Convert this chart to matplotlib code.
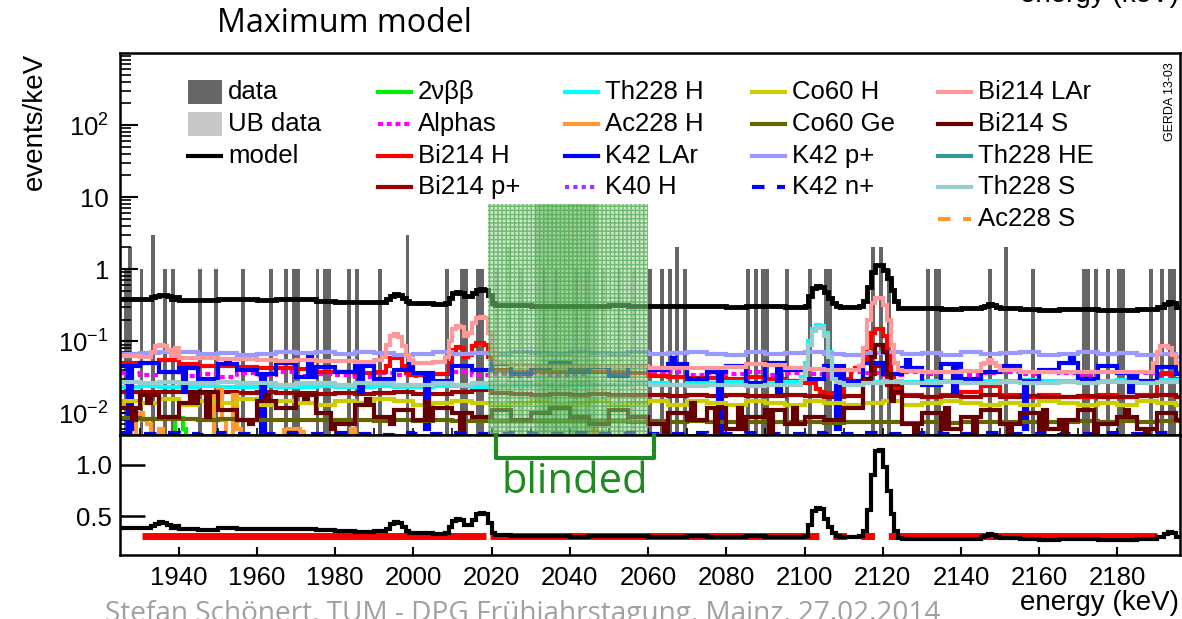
import numpy as np
import matplotlib
matplotlib.use("Agg")
import matplotlib.pyplot as plt
from matplotlib.lines import Line2D
from matplotlib.patches import Rectangle

plt.rcParams['font.family'] = ['Liberation Sans', 'DejaVu Sans']
plt.rcParams['mathtext.fontset'] = 'custom'
plt.rcParams['mathtext.rm'] = 'Liberation Sans'
plt.rcParams['mathtext.it'] = 'Liberation Sans:italic'

# ---------------- data ----------------
E_LO, E_HI = 1925, 2196

# measured data (events/keV, 1 keV bins)
data_e = [1926, 1927, 1930, 1933, 1936, 1938, 1945, 1949, 1956, 1963, 1967, 1969, 1970,
          1975, 1977, 1978, 1983, 1985, 1991, 1998, 2008, 2012, 2013, 2016, 2017,
          2060, 2063, 2065, 2067, 2069, 2085, 2087, 2089, 2090, 2095, 2101, 2105, 2106,
          2117, 2119, 2121, 2131, 2133, 2134, 2147, 2151, 2158, 2171, 2172, 2174, 2177,
          2180, 2181, 2188, 2191, 2193, 2194]
data_v = [1, 2, 1, 3, 1, 1, 1, 1, 1, 1, 1, 1, 1,
          1, 1, 1, 1, 1, 1, 3, 1, 1, 1, 1, 1,
          1, 1, 1, 2, 1, 1, 1, 1, 1, 1, 1, 1, 1,
          2, 2, 1, 1, 1, 1, 1, 2, 1, 1, 1, 1, 1,
          1, 1, 1, 1, 1, 1]

# unblinded data inside the blinded window
ub_e = [2021, 2024, 2027, 2033, 2036, 2041, 2044, 2048, 2052, 2056]
ub_v = [1, 2, 1, 1, 1, 1, 1, 1, 1, 1]

blind_lo, blind_hi = 2019, 2060
blind_core_lo, blind_core_hi = 2031, 2047

# model components: 5 keV coarse values (1925, 1930, ... 2195) + 1 keV peak values
model_c = [0.39, 0.39, 0.41, 0.375, 0.37, 0.39, 0.38, 0.375, 0.38, 0.38, 0.365, 0.355, 0.35,
           0.355, 0.42, 0.34, 0.33, 0.44, 0.47, 0.32, 0.315, 0.31, 0.31, 0.305, 0.31, 0.315,
           0.31, 0.305, 0.305, 0.31, 0.305, 0.3, 0.31, 0.305, 0.3, 0.3, 0.35, 0.3, 0.6, 0.6,
           0.285, 0.285, 0.28, 0.285, 0.3, 0.29, 0.28, 0.275, 0.28, 0.28, 0.275, 0.275, 0.28,
           0.3, 0.3]
model_pk_e = [1933, 1934, 1935, 1936, 1937, 1938, 1993, 1994, 1995, 1996, 1997, 1998, 1999,
              2008, 2009, 2010, 2011, 2012, 2013, 2014, 2015, 2016, 2017, 2018, 2019, 2020,
              2100, 2101, 2102, 2103, 2104, 2105, 2106, 2107, 2108, 2109,
              2114, 2115, 2116, 2117, 2118, 2119, 2120, 2121, 2122, 2123, 2124,
              2146, 2147, 2148, 2149, 2191, 2192, 2193, 2194, 2195]
model_pk_v = [0.41, 0.43, 0.445, 0.44, 0.42, 0.39, 0.38, 0.43, 0.45, 0.44, 0.4, 0.36, 0.34,
              0.34, 0.4, 0.46, 0.48, 0.47, 0.42, 0.42, 0.47, 0.52, 0.535, 0.52, 0.44, 0.34,
              0.31, 0.42, 0.55, 0.58, 0.57, 0.48, 0.4, 0.34, 0.31, 0.3,
              0.31, 0.36, 0.56, 0.9, 1.13, 1.14, 0.98, 0.75, 0.52, 0.36, 0.29,
              0.31, 0.33, 0.32, 0.3, 0.3, 0.33, 0.35, 0.34, 0.3]

tvbb_c = [0.004] * 55
tvbb_pk_e = [1939, 1940, 1941]
tvbb_pk_v = [0.009, 0.0085, 0.006]

alphas_c = [0.036, 0.034, 0.038, 0.033, 0.035, 0.032, 0.036, 0.034, 0.037, 0.033, 0.035,
            0.034, 0.032, 0.036, 0.034, 0.033, 0.035, 0.037, 0.034, 0.035, 0.033, 0.036,
            0.034, 0.035, 0.037, 0.034, 0.036, 0.035, 0.037, 0.034, 0.036, 0.035, 0.038,
            0.034, 0.036, 0.035, 0.033, 0.037, 0.036, 0.034, 0.037, 0.035, 0.038, 0.034,
            0.036, 0.037, 0.035, 0.038, 0.036, 0.034, 0.037, 0.035, 0.036, 0.034, 0.036]

bi214h_c = [0.05, 0.05, 0.055, 0.048, 0.046, 0.045, 0.044, 0.042, 0.042, 0.041, 0.038,
            0.037, 0.036, 0.037, 0.05, 0.034, 0.035, 0.07, 0.08, 0.04, 0.038, 0.039, 0.038,
            0.04, 0.038, 0.037, 0.036, 0.033, 0.032, 0.031, 0.031, 0.03, 0.032, 0.03, 0.028,
            0.026, 0.019, 0.03, 0.1, 0.05, 0.018, 0.017, 0.018, 0.02, 0.024, 0.018, 0.017,
            0.018, 0.017, 0.017, 0.018, 0.017, 0.018, 0.03, 0.03]
bi214h_pk_e = [1993, 1994, 1995, 1996, 1997, 1998, 1999, 2009, 2010, 2011, 2012, 2013, 2014,
               2015, 2016, 2017, 2018, 2019, 2103, 2104, 2111, 2112, 2113, 2114, 2115, 2116,
               2117, 2118, 2119, 2120, 2121, 2122, 2123, 2124, 2147, 2190, 2191, 2192, 2193,
               2194]
bi214h_pk_v = [0.045, 0.058, 0.062, 0.058, 0.045, 0.036, 0.034, 0.05, 0.075, 0.083, 0.08,
               0.06, 0.065, 0.085, 0.095, 0.095, 0.09, 0.06, 0.022, 0.02, 0.025, 0.04, 0.042,
               0.045, 0.05, 0.08, 0.13, 0.15, 0.15, 0.12, 0.07, 0.035, 0.022, 0.019, 0.026,
               0.028, 0.035, 0.036, 0.035, 0.03]

bi214p_c = [0.02, 0.0195, 0.02, 0.0195, 0.019, 0.0195, 0.019, 0.0195, 0.019, 0.019, 0.0185,
            0.019, 0.0185, 0.019, 0.02, 0.0185, 0.0185, 0.02, 0.021, 0.019, 0.0185, 0.018,
            0.0185, 0.018, 0.0185, 0.018, 0.018, 0.018, 0.0175, 0.018, 0.0175, 0.018, 0.0175,
            0.0175, 0.018, 0.0175, 0.017, 0.0175, 0.03, 0.025, 0.0175, 0.017, 0.0175, 0.017,
            0.018, 0.017, 0.0175, 0.017, 0.017, 0.0175, 0.017, 0.017, 0.0175, 0.018, 0.017]
bi214p_pk_e = [2117, 2118, 2119, 2120]
bi214p_pk_v = [0.035, 0.045, 0.045, 0.035]

th228h_c = [0.023, 0.024, 0.023, 0.023, 0.024, 0.023, 0.023, 0.024, 0.023, 0.023, 0.024,
            0.023, 0.023, 0.024, 0.023, 0.023, 0.024, 0.024, 0.023, 0.024, 0.024, 0.025,
            0.024, 0.025, 0.025, 0.025, 0.026, 0.026, 0.025, 0.026, 0.026, 0.027, 0.026,
            0.026, 0.027, 0.03, 0.06, 0.027, 0.027, 0.028, 0.027, 0.028, 0.028, 0.027, 0.028,
            0.028, 0.029, 0.028, 0.028, 0.029, 0.028, 0.029, 0.028, 0.029, 0.029]
th228h_pk_e = [2099, 2100, 2101, 2102, 2103, 2104, 2105, 2106, 2107, 2108, 2109]
th228h_pk_v = [0.032, 0.05, 0.1, 0.15, 0.17, 0.165, 0.13, 0.07, 0.035, 0.028, 0.027]

ac228h_c = [0.003] * 55
ac228h_pk_e = [1925, 1926, 1929, 1930, 1931, 1932, 1935, 1949, 1950, 1951, 1954, 1955, 1967,
               1968, 1969, 1970, 1971, 1984, 2046]
ac228h_pk_v = [0.012, 0.015, 0.009, 0.01, 0.008, 0.007, 0.006, 0.02, 0.021, 0.008, 0.018,
               0.006, 0.0058, 0.006, 0.0058, 0.006, 0.0055, 0.006, 0.006]

k42lar_c = [0.045, 0.05, 0.038, 0.042, 0.03, 0.048, 0.04, 0.035, 0.05, 0.032, 0.044, 0.038,
            0.046, 0.03, 0.04, 0.036, 0.028, 0.045, 0.04, 0.048, 0.035, 0.042, 0.05, 0.038,
            0.044, 0.033, 0.046, 0.04, 0.048, 0.03, 0.038, 0.045, 0.026, 0.05, 0.04, 0.03,
            0.045, 0.028, 0.05, 0.035, 0.042, 0.025, 0.048, 0.03, 0.038, 0.046, 0.028, 0.04,
            0.05, 0.03, 0.045, 0.036, 0.028, 0.044, 0.035]
k42lar_pk_e = [1927, 1941, 1952, 1961, 1973, 1986, 1999, 2003, 2066, 2078, 2093, 2108, 2126,
               2138, 2156, 2168, 2183]
k42lar_pk_v = [0.006, 0.02, 0.055, 0.005, 0.06, 0.02, 0.055, 0.006, 0.058, 0.005, 0.02,
               0.006, 0.055, 0.02, 0.006, 0.058, 0.02]

k40h_c = [0.003] * 55

co60h_c = [0.015, 0.014, 0.016, 0.013, 0.015, 0.014, 0.016, 0.013, 0.015, 0.014, 0.013,
           0.015, 0.014, 0.016, 0.015, 0.013, 0.014, 0.015, 0.014, 0.013, 0.014, 0.015,
           0.013, 0.014, 0.015, 0.013, 0.014, 0.015, 0.013, 0.015, 0.014, 0.013, 0.015,
           0.014, 0.013, 0.015, 0.014, 0.013, 0.014, 0.015, 0.013, 0.014, 0.015, 0.014,
           0.013, 0.014, 0.013, 0.015, 0.014, 0.013, 0.014, 0.013, 0.015, 0.014, 0.013]

co60ge_c = [0.0085, 0.0084, 0.0083, 0.0084, 0.0082, 0.0083, 0.0082, 0.0081, 0.0082, 0.0081,
            0.008, 0.0081, 0.008, 0.0079, 0.008, 0.0079, 0.008, 0.0079, 0.0078, 0.0079,
            0.0078, 0.0077, 0.0078, 0.0077, 0.0078, 0.0077, 0.0076, 0.0077, 0.0076, 0.0077,
            0.0076, 0.0075, 0.0076, 0.0075, 0.0076, 0.0075, 0.0074, 0.0075, 0.0076, 0.0075,
            0.0074, 0.0075, 0.0074, 0.0075, 0.0076, 0.0075, 0.0076, 0.0075, 0.0076, 0.0077,
            0.0076, 0.0077, 0.0076, 0.0077, 0.0078]

k42p_c = [0.066, 0.068, 0.072, 0.07, 0.066, 0.068, 0.064, 0.066, 0.07, 0.068, 0.072, 0.066,
          0.07, 0.068, 0.064, 0.066, 0.07, 0.066, 0.068, 0.066, 0.07, 0.068, 0.066, 0.072,
          0.068, 0.066, 0.07, 0.066, 0.068, 0.072, 0.066, 0.064, 0.07, 0.066, 0.068, 0.072,
          0.066, 0.064, 0.068, 0.07, 0.066, 0.068, 0.064, 0.07, 0.066, 0.068, 0.072, 0.064,
          0.066, 0.07, 0.066, 0.068, 0.064, 0.066, 0.06]

k42n_c = [0.0053, 0.0051, 0.0054, 0.0052, 0.005, 0.0053, 0.0052, 0.0051, 0.0054, 0.0052,
          0.0051, 0.0053, 0.0052, 0.005, 0.0053, 0.0051, 0.0052, 0.0054, 0.0051, 0.0052,
          0.0053, 0.0051, 0.0052, 0.0054, 0.0051, 0.0052, 0.0053, 0.0051, 0.0052, 0.0054,
          0.0051, 0.0052, 0.0053, 0.0051, 0.0052, 0.0054, 0.0051, 0.0052, 0.0053, 0.0051,
          0.0052, 0.0054, 0.0051, 0.0052, 0.0053, 0.0051, 0.0052, 0.0054, 0.0051, 0.0052,
          0.0053, 0.0051, 0.0052, 0.0054, 0.0051]

bi214lar_c = [0.062, 0.06, 0.08, 0.058, 0.058, 0.056, 0.056, 0.055, 0.054, 0.055, 0.054,
              0.053, 0.052, 0.055, 0.1, 0.05, 0.052, 0.14, 0.17, 0.05, 0.047, 0.046, 0.045,
              0.046, 0.045, 0.046, 0.045, 0.043, 0.042, 0.042, 0.043, 0.044, 0.048, 0.047,
              0.042, 0.041, 0.04, 0.04, 0.2, 0.2, 0.039, 0.038, 0.038, 0.039, 0.048, 0.04,
              0.038, 0.037, 0.038, 0.037, 0.038, 0.037, 0.038, 0.05, 0.07]
bi214lar_pk_e = [1933, 1934, 1935, 1936, 1937, 1938, 1992, 1993, 1994, 1995, 1996, 1997,
                 1998, 1999, 2008, 2009, 2010, 2011, 2012, 2013, 2014, 2015, 2016, 2017, 2018,
                 2019, 2020, 2114, 2115, 2116, 2117, 2118, 2119, 2120, 2121, 2122, 2123, 2124,
                 2146, 2147, 2148, 2149, 2189, 2190, 2191, 2192, 2193, 2194, 2195]
bi214lar_pk_v = [0.07, 0.085, 0.088, 0.085, 0.075, 0.062, 0.06, 0.09, 0.12, 0.125, 0.115,
                 0.085, 0.062, 0.055, 0.06, 0.1, 0.15, 0.165, 0.16, 0.12, 0.13, 0.18, 0.21,
                 0.22, 0.21, 0.13, 0.07, 0.045, 0.08, 0.2, 0.34, 0.4, 0.4, 0.32, 0.2, 0.09,
                 0.05, 0.04, 0.05, 0.055, 0.05, 0.045, 0.05, 0.07, 0.085, 0.085, 0.08, 0.065,
                 0.05]

bi214s_c = [0.012, 0.018, 0.009, 0.014, 0.02, 0.011, 0.008, 0.015, 0.012, 0.018, 0.01, 0.007,
            0.013, 0.009, 0.011, 0.008, 0.012, 0.01, 0.009, 0.011, 0.008, 0.01, 0.012, 0.009,
            0.007, 0.011, 0.009, 0.007, 0.01, 0.008, 0.012, 0.006, 0.009, 0.011, 0.007, 0.009,
            0.008, 0.012, 0.03, 0.02, 0.007, 0.01, 0.006, 0.009, 0.011, 0.007, 0.01, 0.006,
            0.008, 0.011, 0.007, 0.009, 0.006, 0.01, 0.008]
bi214s_pk_e = [1928, 1932, 1943, 1947, 1958, 1962, 1972, 1979, 1988, 1994, 2003, 2012,
               2064, 2071, 2077, 2083, 2091, 2097, 2116, 2117, 2118, 2119, 2120, 2121, 2122,
               2128, 2136, 2143, 2152, 2161, 2166, 2174, 2182, 2187]
bi214s_pk_v = [0.008, 0.014, 0.02, 0.009, 0.007, 0.018, 0.016, 0.006, 0.016, 0.007, 0.015,
               0.006, 0.005, 0.014, 0.005, 0.012, 0.005, 0.012, 0.03, 0.06, 0.09, 0.09, 0.07,
               0.035, 0.015, 0.005, 0.012, 0.005, 0.005, 0.011, 0.005, 0.005, 0.011, 0.005]

th228he_c = [0.004] * 55

th228s_c = [0.027, 0.026, 0.027, 0.026, 0.026, 0.027, 0.026, 0.026, 0.025, 0.026, 0.026,
            0.025, 0.026, 0.026, 0.025, 0.025, 0.026, 0.025, 0.026, 0.025, 0.026, 0.025,
            0.025, 0.026, 0.025, 0.025, 0.026, 0.025, 0.025, 0.024, 0.025, 0.025, 0.024,
            0.025, 0.025, 0.03, 0.06, 0.025, 0.026, 0.027, 0.026, 0.026, 0.027, 0.026, 0.026,
            0.027, 0.026, 0.026, 0.027, 0.026, 0.027, 0.027, 0.026, 0.027, 0.027]
th228s_pk_e = [2099, 2100, 2101, 2102, 2103, 2104, 2105, 2106, 2107, 2108, 2109]
th228s_pk_v = [0.03, 0.045, 0.09, 0.14, 0.16, 0.155, 0.12, 0.06, 0.03, 0.027, 0.026]

ac228s_c = [0.003] * 55

# bottom panel: constant background line
bkg_level = 0.315


def hist1kev(coarse, pk_e=(), pk_v=()):
    vals = np.repeat(np.array(coarse, dtype=float), 5)[:E_HI - E_LO]
    for e, v in zip(pk_e, pk_v):
        vals[e - E_LO] = v
    return vals


edges = np.arange(E_LO, E_HI + 1)

components = [
    ("2\u03bd\u03b2\u03b2", hist1kev(tvbb_c, tvbb_pk_e, tvbb_pk_v), "#00ee00", "-"),
    ("Alphas", hist1kev(alphas_c), "#ff00ff", (0, (1.2, 0.9))),
    ("Bi214 H", hist1kev(bi214h_c, bi214h_pk_e, bi214h_pk_v), "#ff0000", "-"),
    ("Bi214 p+", hist1kev(bi214p_c, bi214p_pk_e, bi214p_pk_v), "#990000", "-"),
    ("Th228 H", hist1kev(th228h_c, th228h_pk_e, th228h_pk_v), "#00ffff", "-"),
    ("Ac228 H", hist1kev(ac228h_c, ac228h_pk_e, ac228h_pk_v), "#ff9933", "-"),
    ("K42 LAr", hist1kev(k42lar_c, k42lar_pk_e, k42lar_pk_v), "#0000ff", "-"),
    ("K40 H", hist1kev(k40h_c), "#9933ff", (0, (1, 1))),
    ("Co60 H", hist1kev(co60h_c), "#cccc00", "-"),
    ("Co60 Ge", hist1kev(co60ge_c), "#666600", "-"),
    ("K42 p+", hist1kev(k42p_c), "#9999ff", "-"),
    ("K42 n+", hist1kev(k42n_c), "#0000ff", (0, (3, 3))),
    ("Bi214 LAr", hist1kev(bi214lar_c, bi214lar_pk_e, bi214lar_pk_v), "#ff9999", "-"),
    ("Bi214 S", hist1kev(bi214s_c, bi214s_pk_e, bi214s_pk_v), "#660000", "-"),
    ("Th228 HE", hist1kev(th228he_c), "#339999", "-"),
    ("Th228 S", hist1kev(th228s_c, th228s_pk_e, th228s_pk_v), "#99cccc", "-"),
    ("Ac228 S", hist1kev(ac228s_c), "#ff9933", (0, (3, 3))),
]
model = hist1kev(model_c, model_pk_e, model_pk_v)

# ---------------- figure ----------------
W, H = 1182, 619
fig = plt.figure(figsize=(W / 100, H / 100), dpi=100)


def fx(px):
    return px / W


def fy(py):
    return 1 - py / H


ax = fig.add_axes([fx(120), fy(435), fx(1180) - fx(120), fy(53) - fy(435)])
axb = fig.add_axes([fx(120), fy(555), fx(1180) - fx(120), fy(435) - fy(555)])

ymin, ymax = 0.005, 1000
ax.set_yscale("log")
ax.set_xlim(E_LO, E_HI)
ax.set_ylim(ymin, ymax)

ax.bar(data_e, data_v, width=1, align="edge", bottom=1e-4, color="#666666", lw=0, zorder=1)
ax.bar(ub_e, ub_v, width=1, align="edge", bottom=1e-4, color="#c8c8c8", lw=0, zorder=1)

for name, vals, col, ls in components:
    ax.stairs(vals, edges, color=col, lw=3, linestyle=ls, baseline=None, zorder=2)
ax.stairs(model, edges, color="black", lw=3.5, baseline=None, zorder=3)

# blinded window
ax.add_patch(Rectangle((blind_lo, ymin), blind_hi - blind_lo, 8 - ymin,
                       facecolor=(0.62, 0.84, 0.62, 0.55), edgecolor=(0.1, 0.55, 0.1, 0.5),
                       hatch="++++", lw=0, zorder=4))
ax.add_patch(Rectangle((blind_core_lo, ymin), blind_core_hi - blind_core_lo, 8 - ymin,
                       facecolor=(0.2, 0.6, 0.2, 0.3), lw=0, zorder=4))

ax.set_yticks([0.01, 0.1, 1, 10, 100])
ax.set_yticklabels(["$10^{-2}$", "$10^{-1}$", "1", "10", "$10^{2}$"])
ax.set_xticks(np.arange(1940, 2190, 20))
ax.set_xticks(np.arange(1930, 2196, 10), minor=True)
ax.tick_params(axis="x", which="both", direction="in", labelbottom=False, length=5, width=1.2)
ax.tick_params(axis="y", which="major", direction="in", length=13, width=1.5,
               labelsize=18.5, pad=8)
ax.tick_params(axis="y", which="minor", direction="in", length=8, width=1.2)
for s in ax.spines.values():
    s.set_linewidth(1.8)

# bottom panel
axb.set_xlim(E_LO, E_HI)
axb.set_ylim(0.126, 1.29)
axb.plot([1930.5, 2018.5], [bkg_level, bkg_level], color="#ff0000", lw=5,
         solid_capstyle="butt", zorder=2)
axb.plot([2019.5, 2100], [bkg_level, bkg_level], color="#ff0000", lw=5,
         solid_capstyle="butt", zorder=2)
axb.plot([2100, 2124], [bkg_level, bkg_level], color="#ff0000", lw=5,
         linestyle=(0, (2, 2)), zorder=2)
axb.plot([2124, 2190], [bkg_level, bkg_level], color="#ff0000", lw=5,
         solid_capstyle="butt", zorder=2)
axb.stairs(model, edges, color="black", lw=3, baseline=None, zorder=3)
axb.set_yticks([0.5, 1.0])
axb.set_yticklabels(["0.5", "1.0"])
axb.set_xticks(np.arange(1940, 2190, 20))
axb.tick_params(axis="x", direction="in", length=6, width=1.5, labelsize=18.5, pad=8)
axb.tick_params(axis="y", direction="in", length=18, width=1.8, labelsize=18.5, pad=6)
for s in axb.spines.values():
    s.set_linewidth(1.8)

# blinded bracket + label
axb.plot([2021.2, 2021.2, 2061.5, 2061.5], [1.29, 1.07, 1.07, 1.29], color="#1f8a1f",
         lw=3, solid_joinstyle="round", clip_on=False, zorder=5)
axb.text((2021.2 + 2061.5) / 2, 0.83, "blinded", color="#1f8a1f", fontsize=30,
         family=["Open Sans", "DejaVu Sans"], ha="center", va="center")

# legend (5 columns, drawn by hand)
legend_cols = [
    (188, [("data", "box", "#666666", "-"), ("UB data", "box", "#c8c8c8", "-"),
           ("model", "line", "black", "-")]),
    (378, [(c[0], "line", c[2], c[3]) for c in components[0:4]]),
    (565, [(c[0], "line", c[2], c[3]) for c in components[4:8]]),
    (752, [(c[0], "line", c[2], c[3]) for c in components[8:12]]),
    (938, [(c[0], "line", c[2], c[3]) for c in components[12:17]]),
]
row_y = [92, 124, 156, 187, 219]
for x0, entries in legend_cols:
    for j, (lab, kind, col, ls) in enumerate(entries):
        yc = row_y[j]
        if kind == "box":
            fig.patches.append(Rectangle((fx(x0), fy(yc + 12)), fx(34), 24 / H,
                                         transform=fig.transFigure, facecolor=col, lw=0))
        else:
            fig.lines.append(Line2D([fx(x0), fx(x0 + 33)], [fy(yc), fy(yc)], color=col,
                                    lw=3, linestyle=ls, transform=fig.transFigure))
        fig.text(fx(x0 + 40), fy(yc), lab, fontsize=18.5, ha="left", va="center")

# texts
fig.text(fx(217), fy(24), "Maximum model", fontsize=23.2, family=["Open Sans", "DejaVu Sans"],
         ha="left", va="center")
fig.text(fx(35), fy(53), "events/keV", rotation=90, fontsize=20, ha="center", va="top")
fig.text(fx(1179), fy(603), "energy (keV)", fontsize=20, ha="right", va="center")
fig.text(fx(1179), fy(2), "energy (keV)", fontsize=20, ha="right", va="baseline")
fig.text(fx(1170), fy(62), "GERDA 13-03", rotation=90, fontsize=9, ha="center", va="top")
fig.text(fx(105), fy(621), "Stefan Sch\u00f6nert, TUM - DPG Fr\u00fchjahrstagung, Mainz, 27.02.2014",
         fontsize=20.2, color="#a0a0a0", family=["Open Sans", "DejaVu Sans"],
         ha="left", va="baseline")

fig.savefig("out.png", dpi=100)
